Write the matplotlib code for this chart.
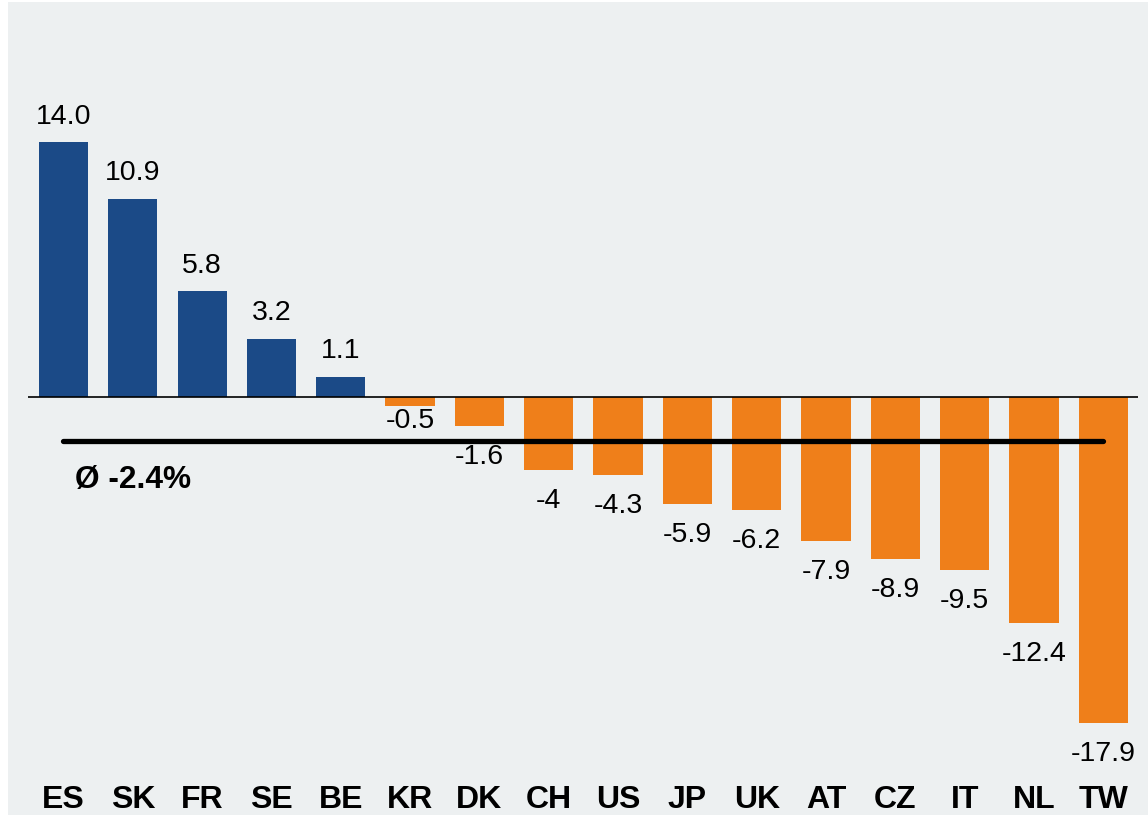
import numpy as np
import matplotlib.pyplot as plt
from matplotlib.patches import Rectangle

plt.rcParams['font.family'] = ['Liberation Sans', 'DejaVu Sans']

# ── Dados ────────────────────────────────────────────────────────────────────
paises = ['ES', 'SK', 'FR', 'SE', 'BE', 'KR', 'DK', 'CH',
          'US', 'JP', 'UK', 'AT', 'CZ', 'IT', 'NL', 'TW']
valores = [14.0, 10.9, 5.8, 3.2, 1.1, -0.5, -1.6, -4.0,
           -4.3, -5.9, -6.2, -7.9, -8.9, -9.5, -12.4, -17.9]
rotulos = ['14.0', '10.9', '5.8', '3.2', '1.1', '-0.5', '-1.6', '-4',
           '-4.3', '-5.9', '-6.2', '-7.9', '-8.9', '-9.5', '-12.4', '-17.9']
media = -2.4

# ── Estilo ───────────────────────────────────────────────────────────────────
azul = '#1B4A87'
laranja = '#EF7F1A'
fundo = '#EDF0F1'

W, H = 1148, 815
fig = plt.figure(figsize=(W / 100, H / 100), dpi=100, facecolor='white')
fig.patches.append(Rectangle((8 / W, 0), 1, (H - 2) / H, transform=fig.transFigure,
                             facecolor=fundo, edgecolor='none', zorder=-10))

px = 18.2          # pixels por unidade
y0 = 397           # linha zero (px)
top, bot = 2, 775
ax = fig.add_axes([28 / W, (H - bot) / H, 1110 / W, (bot - top) / H])
ax.set_facecolor('none')
ax.set_xlim(-0.512, 15.5)
ax.set_ylim(-(bot - y0) / px, (y0 - top) / px)

x = np.arange(len(paises))
cores = [azul if v > 0 else laranja for v in valores]
ax.bar(x, valores, width=0.71, color=cores, zorder=2)
ax.axhline(0, color='black', linewidth=1.2, zorder=3)

# linha da média
ax.plot([x[0], x[-1]], [media, media], color='black', linewidth=3.8,
        solid_capstyle='round', zorder=4)
ax.text(0.16, -5.0, f'Ø {media}%', fontsize=22.8, fontweight='bold',
        ha='left', va='baseline')

# rótulo de KR fica colado à barra para não cruzar a linha da média
perto = {'KR'}
for p, xi, v, r in zip(paises, x, valores, rotulos):
    if v > 0:
        ax.annotate(r, (xi, v), xytext=(0, 9), textcoords='offset points',
                    ha='center', va='bottom', fontsize=20.5)
    else:
        dy = -1.2 if p in perto else -13
        ax.annotate(r, (xi, v), xytext=(0, dy), textcoords='offset points',
                    ha='center', va='top', fontsize=20.5)

ax.set_xticks(x)
ax.set_xticklabels(paises, fontsize=23, fontweight='bold')
ax.tick_params(axis='x', length=0, pad=7)
ax.set_yticks([])
for s in ax.spines.values():
    s.set_visible(False)

fig.savefig('out.png', dpi=100, facecolor='white')
plt.close()
